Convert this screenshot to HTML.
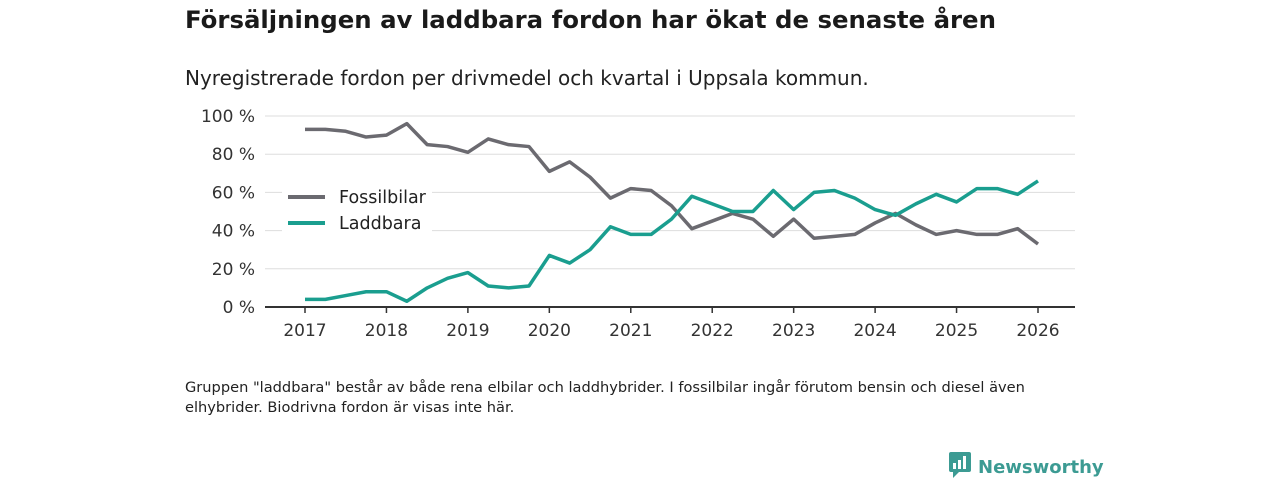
<!DOCTYPE html>
<html><head><meta charset="utf-8"><style>
body{margin:0;width:1280px;height:480px;background:#fff;font-family:"DejaVu Sans","Liberation Sans",sans-serif;color:#222;overflow:hidden;position:relative}
.t{position:absolute;left:185px;top:5px;font-size:24.4px;font-weight:bold;color:#1a1a1a}
.s{position:absolute;left:185px;top:66px;font-size:20px;color:#222}
.n{position:absolute;left:185px;top:378px;font-size:14.6px;line-height:20px;color:#222;width:900px}
.logo{position:absolute;left:948px;top:451px;font-size:18px;font-weight:bold;color:#3c9b93}
</style></head><body>
<div class="t">Försäljningen av laddbara fordon har ökat de senaste åren</div>
<div class="s">Nyregistrerade fordon per drivmedel och kvartal i Uppsala kommun.</div>
<svg id="c" width="1280" height="480" style="position:absolute;left:0;top:0"></svg>
<div class="n">Gruppen "laddbara" består av både rena elbilar och laddhybrider. I fossilbilar ingår förutom bensin och diesel även elhybrider. Biodrivna fordon är visas inte här.</div>
<div class="logo"><svg width="24" height="28" style="vertical-align:-6px;margin-right:6px"><rect x="1" y="1" width="22" height="20" rx="2" fill="#3c9b93"/><path d="M5 21 L5 27 L11 21Z" fill="#3c9b93"/><rect x="5" y="12" width="3" height="6" fill="#fff"/><rect x="10" y="9" width="3" height="9" fill="#fff"/><rect x="15" y="5" width="3" height="13" fill="#fff"/></svg>Newsworthy</div>
<script>
const yearTicks=[2017,2018,2019,2020,2021,2022,2023,2024,2025,2026];
const yTicks=[0,20,40,60,80,100];
const fossil=[93,93,92,89,90,96,85,84,81,88,85,84,71,76,68,57,62,61,53,41,45,49,46,37,46,36,37,38,44,49,43,38,40,38,38,41,33];
const laddbara=[4,4,6,8,8,3,10,15,18,11,10,11,27,23,30,42,38,38,46,58,54,50,50,61,51,60,61,57,51,48,54,59,55,62,62,59,66];
const NS="http://www.w3.org/2000/svg",svg=document.getElementById('c');
const X=t=>305+(t-2017)*(1038-305)/9, Y=v=>307-v*(307-116)/100;
function mk(tag,a){const e=document.createElementNS(NS,tag);for(const k in a)e.setAttribute(k,a[k]);svg.appendChild(e);return e;}
yTicks.forEach(v=>{
 if(v>0){const g=mk('line',{x1:265,x2:1075,y1:Y(v),y2:Y(v),stroke:'#ddd','stroke-width':1});
 
 }
 const t=mk('text',{x:255,y:Y(v)+6,'text-anchor':'end','font-size':17,fill:'#333','font-family':'DejaVu Sans,Liberation Sans,sans-serif'});
 t.textContent=v+' %';
 
 
});
const ax=mk('line',{x1:265,x2:1075,y1:307,y2:307,stroke:'#333','stroke-width':2});


yearTicks.forEach(y=>{
 const tk=mk('line',{x1:X(y),x2:X(y),y1:307,y2:313,stroke:'#333','stroke-width':1.5});
 
 
 const t=mk('text',{x:X(y),y:336,'text-anchor':'middle','font-size':17,fill:'#333','font-family':'DejaVu Sans,Liberation Sans,sans-serif'});
 t.textContent=y;
 
 
});
const lb=mk('rect',{x:282,y:180,width:150,height:60,fill:'#fff'});


function line(arr,col,name){
 const p=mk('polyline',{points:arr.map((v,i)=>X(2017+i/4)+','+Y(v)).join(' '),fill:'none',stroke:col,'stroke-width':3.5,'stroke-linejoin':'round'});
 
 
}
line(fossil,'#6b6a70','line-fossilbilar');
line(laddbara,'#1a9e8f','line-laddbara');
[['Fossilbilar','#6b6a70',197],['Laddbara','#1a9e8f',223]].forEach(([l,c,y])=>{
 const s=mk('line',{x1:288,x2:325,y1:y,y2:y,stroke:c,'stroke-width':4});
 
 
 const t=mk('text',{x:339,y:y+6,'font-size':17.5,fill:'#222','font-family':'DejaVu Sans,Liberation Sans,sans-serif'});
 t.textContent=l;
 
 
});
</script>
</body></html>
